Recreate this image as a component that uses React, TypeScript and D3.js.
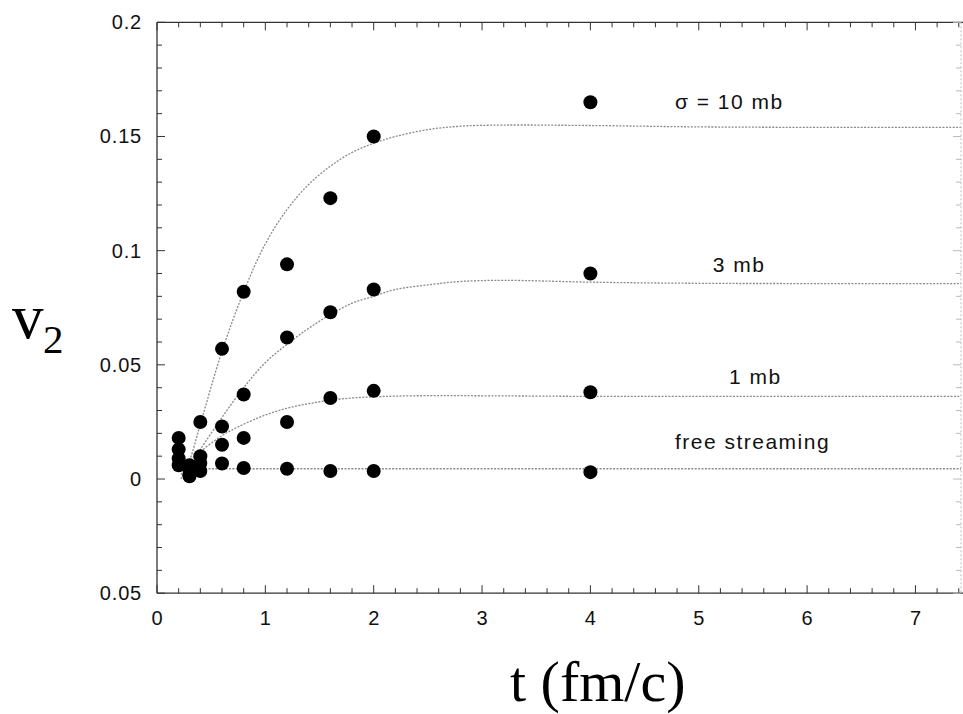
import React from "react";
import * as d3 from "d3";

// Simulation points
const simTimes = [0.2, 0.3, 0.4, 0.6, 0.8, 1.2, 1.6, 2.0, 4.0];
const sim10mb = [0.018, 0.006, 0.025, 0.057, 0.082, 0.094, 0.123, 0.15, 0.165];
const sim3mb = [0.013, 0.004, 0.01, 0.023, 0.037, 0.062, 0.073, 0.083, 0.09];
const sim1mb = [0.009, 0.002, 0.007, 0.015, 0.018, 0.025, 0.0355, 0.0386, 0.038];
const simFree = [0.006, 0.0012, 0.0035, 0.0068, 0.0048, 0.0045, 0.0035, 0.0035, 0.003];

// Theory curves
const curveTimes = [0.22, 0.3, 0.4, 0.6, 0.8, 1.0, 1.2, 1.4, 1.6, 1.8, 2.0, 2.2, 2.5, 2.8, 3.2, 4.0, 5.0, 6.0, 7.5];
const curve10mb = [0.0, 0.008, 0.024, 0.056, 0.082, 0.103, 0.118, 0.129, 0.137, 0.143, 0.147, 0.15, 0.153, 0.1545, 0.155, 0.1548, 0.1542, 0.154, 0.154];
const curve3mb = [0.002, 0.006, 0.013, 0.027, 0.04, 0.051, 0.059, 0.066, 0.072, 0.077, 0.08, 0.083, 0.085, 0.0865, 0.087, 0.0862, 0.0857, 0.0856, 0.0856];
const curve1mb = [0.004, 0.008, 0.012, 0.019, 0.024, 0.028, 0.031, 0.033, 0.0345, 0.0355, 0.036, 0.0363, 0.0365, 0.0365, 0.0364, 0.0362, 0.0362, 0.0362, 0.0362];
const freeTimes = [0.35, 7.5];
const curveFree = [0.0045, 0.0045];

const labelTexts = ["\u03c3 = 10 mb", "3 mb", "1 mb", "free streaming"];
const labelT = [4.78, 5.13, 5.28, 4.78];
const labelV = [0.162, 0.0906, 0.0418, 0.0132];

const xTicks = [0, 1, 2, 3, 4, 5, 6, 7];
const yTicks = [0.2, 0.15, 0.1, 0.05, 0, -0.05];
const yTickLabels = ["0.2", "0.15", "0.1", "0.05", "0", "0.05"];

const W = 963;
const H = 714;
const left = 157;
const top = 22.3;
const bottom = 593.2;
const right = 961;

export default function App() {
  const x = d3.scaleLinear().domain([0, 7.5]).range([left, left + 7.5 * 108.35]);
  const y = d3.scaleLinear().domain([-0.05, 0.2]).range([bottom, top]);

  const line = d3
    .line<[number, number]>()
    .x((d) => x(d[0]))
    .y((d) => y(d[1]))
    .curve(d3.curveCatmullRom.alpha(0.5));

  const curves = [
    curveTimes.map((t, i) => [t, curve10mb[i]] as [number, number]),
    curveTimes.map((t, i) => [t, curve3mb[i]] as [number, number]),
    curveTimes.map((t, i) => [t, curve1mb[i]] as [number, number]),
    freeTimes.map((t, i) => [t, curveFree[i]] as [number, number]),
  ];
  const sims = [sim10mb, sim3mb, sim1mb, simFree];

  const xMinor = d3.range(0, 7.45, 0.2);
  const yMinor = d3.range(-0.05, 0.2001, 0.01);

  const axisColor = "#333";
  const tickFont = "'Liberation Sans', Arial, sans-serif";

  return (
    <svg
      width={W}
      height={H}
      style={{ position: "absolute", left: 0, top: 0, background: "#fff" }}
    >
      <rect x={0} y={0} width={W} height={H} fill="#fff" />
      <defs>
        <clipPath id="plot">
          <rect x={left} y={top} width={right - left} height={bottom - top} />
        </clipPath>
      </defs>

      {/* curves */}
      <g clipPath="url(#plot)">
        {curves.map((c, i) => (
          <path
            key={i}
            d={line(c) || ""}
            fill="none"
            stroke="#8a8a8a"
            strokeWidth={1.3}
            strokeDasharray="2,1.4"
          />
        ))}
      </g>

      {/* points */}
      <g>
        {sims.map((s, si) =>
          s.map((v, i) => (
            <circle key={si + "-" + i} cx={x(simTimes[i])} cy={y(v)} r={7} fill="#000" />
          ))
        )}
      </g>

      {/* frame */}
      <line x1={left} x2={left} y1={top} y2={bottom} stroke={axisColor} strokeWidth={1.3} />
      <line x1={left} x2={W} y1={top} y2={top} stroke={axisColor} strokeWidth={1.3} />
      <line x1={left} x2={W} y1={bottom} y2={bottom} stroke={axisColor} strokeWidth={1.3} />
      <line x1={right} x2={right} y1={top} y2={bottom} stroke="#bbb" strokeWidth={1} strokeDasharray="2,2" />

      {/* x ticks */}
      {xMinor.map((t, i) => {
        const major = Math.abs(t - Math.round(t)) < 1e-6;
        const len = major ? 8 : 5;
        return (
          <g key={"xt" + i}>
            <line x1={x(t)} x2={x(t)} y1={bottom} y2={bottom - len} stroke={axisColor} strokeWidth={1} />
            <line x1={x(t)} x2={x(t)} y1={top} y2={top + len} stroke={axisColor} strokeWidth={1} />
          </g>
        );
      })}
      {/* y ticks */}
      {yMinor.map((v, i) => {
        const major = Math.abs(v * 20 - Math.round(v * 20)) < 1e-6;
        const len = major ? 8 : 5;
        return (
          <g key={"yt" + i}>
            <line x1={left} x2={left + len} y1={y(v)} y2={y(v)} stroke={axisColor} strokeWidth={1} />
            <line x1={right} x2={right - len} y1={y(v)} y2={y(v)} stroke="#bbb" strokeWidth={1} />
          </g>
        );
      })}

      {/* tick labels */}
      {xTicks.map((t) => (
        <text
          key={"xl" + t}
          x={x(t)}
          y={625}
          textAnchor="middle"
          fontFamily={tickFont}
          fontSize={20}
          fill="#111"
        >
          {t}
        </text>
      ))}
      {yTicks.map((v, i) => (
        <text
          key={"yl" + i}
          x={142}
          y={y(v) + 7}
          textAnchor="end"
          fontFamily={tickFont}
          fontSize={20}
          letterSpacing={0.8}
          fill="#111"
        >
          {yTickLabels[i]}
        </text>
      ))}

      {/* series labels */}
      {labelTexts.map((s, i) => (
        <text
          key={"lab" + i}
          x={x(labelT[i])}
          y={y(labelV[i])}
          fontFamily={tickFont}
          fontSize={21}
          letterSpacing={1.5}
          fill="#111"
        >
          {s}
        </text>
      ))}

      {/* axis titles */}
      <text x={12} y={338} fontFamily="'Liberation Serif', 'Times New Roman', serif" fontSize={63} fill="#000">
        v
      </text>
      <text x={43} y={353} fontFamily="'Liberation Serif', 'Times New Roman', serif" fontSize={41} fill="#000">
        2
      </text>
      <text x={510} y={701} fontFamily="'Liberation Serif', 'Times New Roman', serif" fontSize={58} fill="#000">
        t (fm/c)
      </text>
    </svg>
  );
}
